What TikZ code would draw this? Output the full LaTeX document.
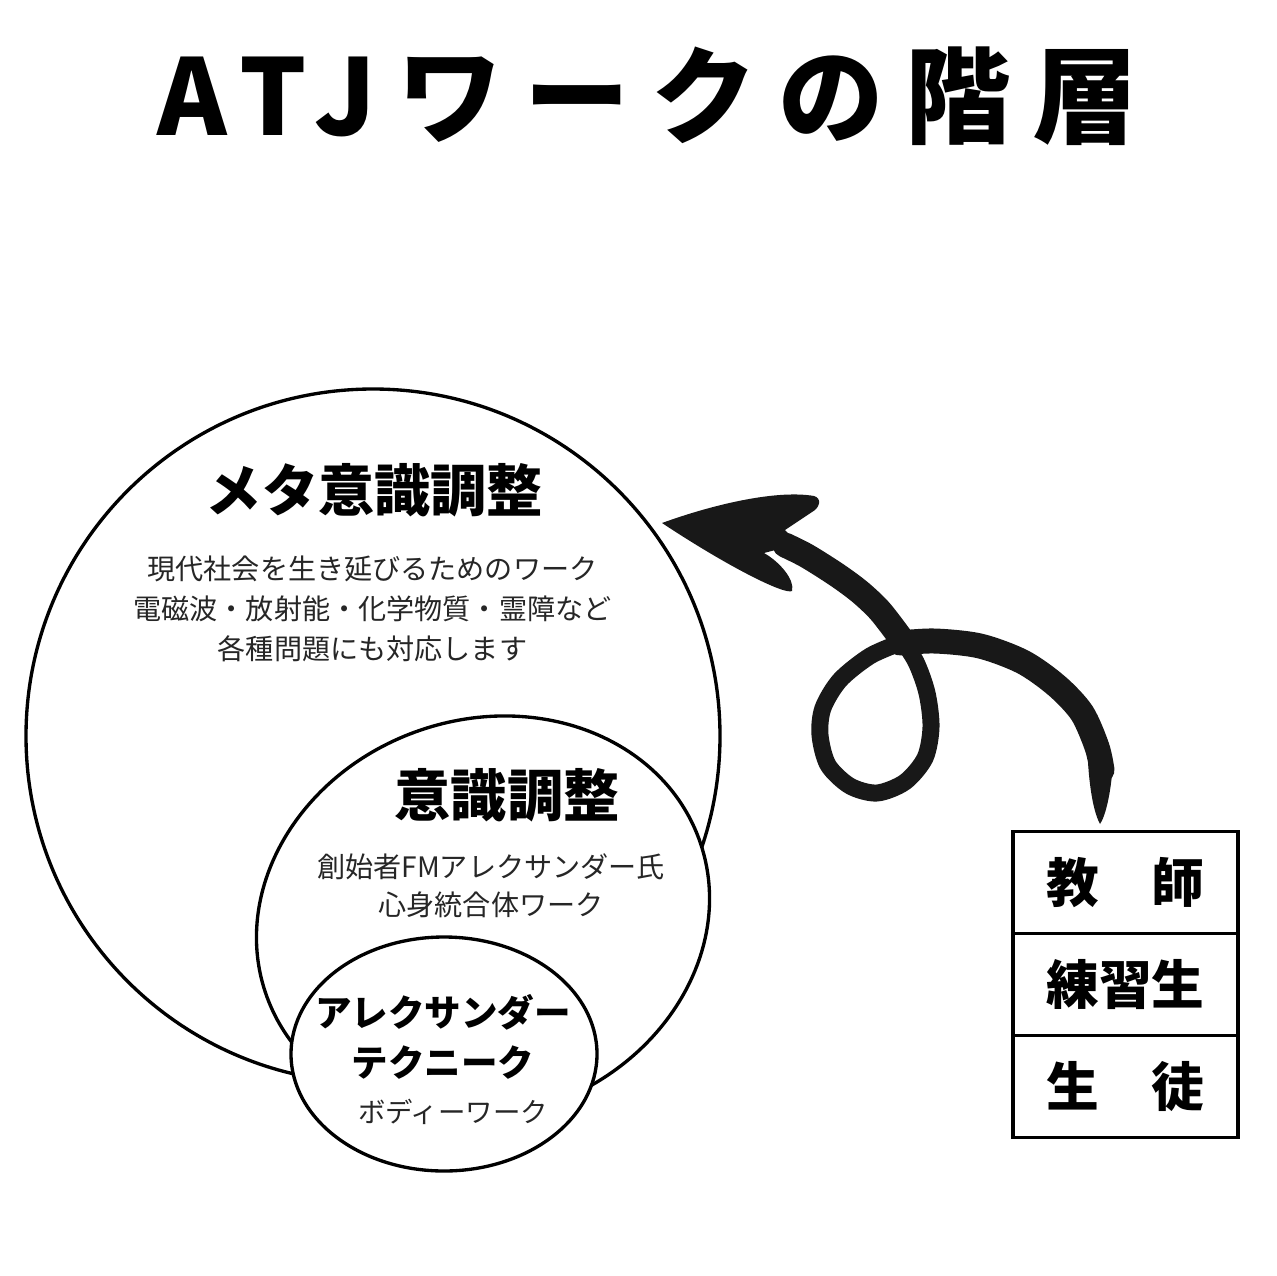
\documentclass[tikz,border=0pt]{standalone}
\usepackage{fontspec}
\usetikzlibrary{positioning}
\newfontfamily\jp{Noto Sans CJK JP}
\newfontfamily\jpwide[LetterSpace=20.5]{Noto Sans CJK JP}
\definecolor{inkK}{RGB}{24,24,24}
\definecolor{txtK}{RGB}{38,38,38}
\newcommand{\LW}{0.95pt}
\newcommand{\AWl}{0.17cm}
\newcommand{\AWt}{0.25cm}

\begin{document}
\begin{tikzpicture}[
    ring/.style={draw=black, fill=white, line width=\LW},
    ttl/.style={font=\jp\bfseries\fontsize{16}{18}\selectfont, inner sep=0pt},
    body/.style={font=\jp\fontsize{8}{11.4}\selectfont, text=txtK, align=center, inner sep=0pt},
    cell/.style={draw=black, line width=1.1pt, outer sep=0pt, inner sep=0pt,
                 minimum width=2.25cm, minimum height=1.02cm,
                 font=\jp\bfseries\fontsize{15}{18}\selectfont},
    brush/.style={draw=inkK, line cap=round, line join=round},
  ]
  \useasboundingbox (0,0) rectangle (12.76,-12.76);

  %% ================= title =================
  \node[inner sep=0pt, font=\jpwide\bfseries\fontsize{30}{32}\selectfont] (title) at (6.48,-0.96) {ATJワークの階層};

  %% ================= the three nested rings =================
  \draw[ring] (3.73,-7.36) circle[radius=3.47];
  \draw[ring, rotate around={20:(4.83,-9.18)}] (4.83,-9.18) ellipse[x radius=2.30, y radius=1.98];
  \draw[ring] (4.44,-10.54) ellipse[x radius=1.53, y radius=1.17];

  % outer ring
  \node[ttl] (metaTtl) at (3.745,-4.90) {メタ意識調整};
  \node[body] (metaTxt) at (3.725,-6.09)
    {現代社会を生き延びるためのワーク\\電磁波・放射能・化学物質・霊障など\\各種問題にも対応します};
  % middle ring
  \node[ttl] (ishTtl) at (5.07,-7.955) {意識調整};
  \node[body, font=\jp\fontsize{8}{10.8}\selectfont] (ishTxt) at (4.91,-8.86)
    {創始者FMアレクサンダー氏\\心身統合体ワーク};
  % inner ring
  \node[ttl, align=center, font=\jp\bfseries\fontsize{10.4}{14.2}\selectfont] (atTtl) at (4.43,-10.37)
    {アレクサンダー\\テクニーク};
  \node[body, font=\jp\fontsize{7.8}{9}\selectfont] (atTxt) at (4.53,-11.12) {ボディーワーク};

  %% ================= the ladder on the right =================
  \node[cell] (tblT) at (11.255,-8.825) {教　師};
  \node[cell, below=0pt of tblT] (tblP) {練習生};
  \node[cell, below=0pt of tblP] (tblS) {生　徒};

  %% ================= the looping brush arrow =================
  \coordinate (arrowTail) at (11.00,-8.24);
  \coordinate (arrowTip)  at (6.62,-5.23);
  % thick arc over the top
  \draw[brush, line width=\AWt] plot[smooth] coordinates
    {(11.02,-7.70) (10.97,-7.47) (10.82,-7.13) (10.57,-6.86) (10.23,-6.62)
     (9.80,-6.46) (9.35,-6.41) (9.00,-6.43)};
  % tapered tail
  \fill[inkK] (10.88,-7.62) .. controls (10.90,-7.95) and (10.95,-8.15) .. (arrowTail)
    .. controls (11.05,-8.17) and (11.11,-7.95) .. (11.13,-7.62) -- cycle;
  % the loop
  \draw[brush, line width=\AWl] plot[smooth] coordinates
    {(9.00,-6.43) (8.70,-6.56) (8.40,-6.80) (8.23,-7.08) (8.20,-7.35) (8.28,-7.65) (8.50,-7.86)
     (8.77,-7.93) (9.05,-7.82) (9.25,-7.58) (9.31,-7.27) (9.27,-6.93) (9.16,-6.62) (9.00,-6.37)};
  % neck up to the head
  \draw[brush, line width=\AWt] plot[smooth] coordinates
    {(9.00,-6.37) (8.80,-6.11) (8.60,-5.92) (8.37,-5.75) (8.07,-5.56) (7.85,-5.45)};
  % barbed head
  \fill[inkK] (arrowTip) .. controls (7.20,-5.02) and (7.80,-4.90) .. (8.14,-4.96)
    .. controls (8.22,-4.98) and (8.20,-5.08) .. (8.12,-5.12)
    -- (7.85,-5.30) -- (7.98,-5.44) -- (7.64,-5.53)
    .. controls (7.80,-5.62) and (7.95,-5.80) .. (7.92,-5.91)
    .. controls (7.85,-5.95) and (7.30,-5.68) .. cycle;

\end{tikzpicture}
\end{document}
